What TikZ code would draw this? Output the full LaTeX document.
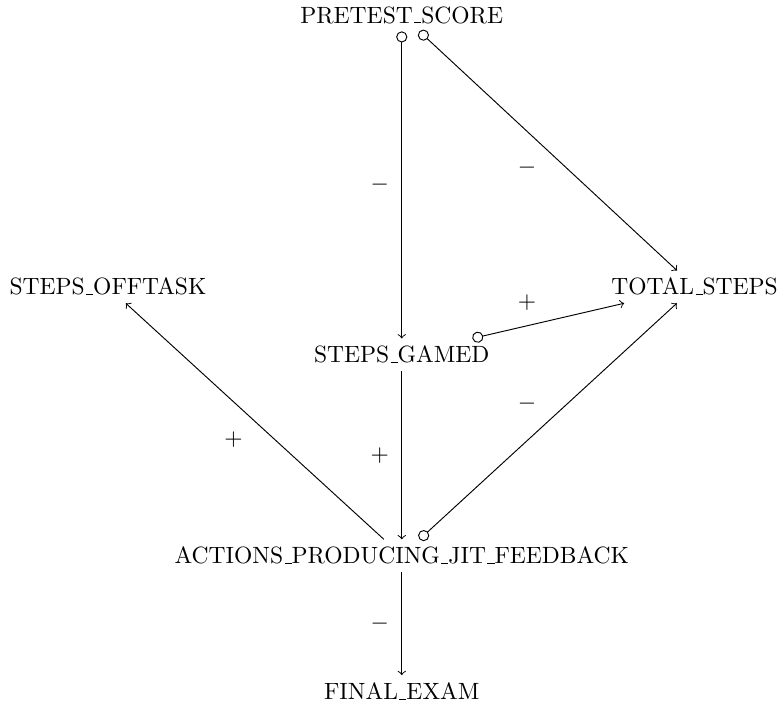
\documentclass[tikz,border=0pt]{standalone}
\usepackage[OT1]{fontenc}
\usetikzlibrary{arrows}

\begin{document}
\begin{tikzpicture}[x=0.934cm,y=0.934cm,
    var/.style={inner sep=3.33pt},
    sign/.style={midway,inner sep=1pt}]
            \useasboundingbox (0,0) rectangle (12.48,-11.23);

            \node[var] (P) at (6.42,-0.24) {PRETEST\_SCORE};
            \node[var] (O) at (1.725,-4.585) {STEPS\_OFFTASK};
            \node[var] (T) at (11.10,-4.585) {TOTAL\_STEPS};
            \node[var] (G) at (6.42,-5.67) {STEPS\_GAMED};
            \node[var] (A) at (6.42,-8.88) {ACTIONS\_PRODUCING\_JIT\_FEEDBACK};
            \node[var] (F) at (6.42,-11.05) {FINAL\_EXAM};

            \path [o->] (P) edge node[sign,shift={(-0.35,0)}] {$-$} (G);
            \path [o->] (P) edge node[sign,shift={(-0.34,-0.27)}] {$-$} (T);
            \path [o->] (G) edge node[sign,shift={(-0.34,0.29)}] {$+$} (T);

            \path [->] (G) edge node[sign,shift={(-0.35,0)}] {$+$} (A);
            \path [->] (A) edge node[sign,shift={(-0.34,-0.30)}] {$+$} (O);
            \path [o->] (A) edge node[sign,shift={(-0.34,0.29)}] {$-$} (T);
            \path [->] (A) edge node[sign,shift={(-0.35,0)}] {$-$} (F);
        \end{tikzpicture}
\end{document}
